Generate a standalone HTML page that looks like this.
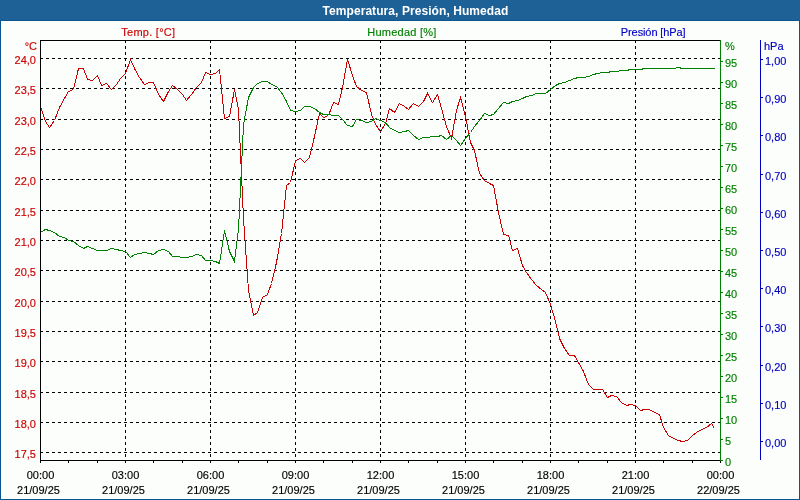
<!DOCTYPE html>
<html><head><meta charset="utf-8"><title>Temperatura, Presión, Humedad</title>
<style>
html,body{margin:0;padding:0;}
body{width:800px;height:500px;overflow:hidden;background:#fcfefc;font-family:"Liberation Sans",sans-serif;font-size:11px;}
#wrap{position:relative;width:800px;height:500px;box-sizing:border-box;border-left:1px solid #0c548f;border-right:1px solid #0c548f;border-bottom:1px solid #0c548f;}
#title{position:absolute;left:-1px;top:0;width:800px;height:20px;background:#1e6197;border-bottom:1px solid #0c548f;color:#fff;font-weight:bold;font-size:12px;}
#title span{position:absolute;left:322.5px;top:3.5px;white-space:nowrap;letter-spacing:0.07px;}
svg{position:absolute;left:-1px;top:0;}
text{font-family:"Liberation Sans",sans-serif;font-size:11px;}
.r{fill:#cc0000;stroke:#cc0000}.g{fill:#008000;stroke:#008000}.b{fill:#0000c0;stroke:#0000c0}.k{fill:#000;stroke:#000}
text{stroke-width:0.15px}
</style></head><body><div id="wrap">
<div id="title"><span id="tt">Temperatura, Presión, Humedad</span></div>
<svg width="800" height="500" viewBox="0 0 800 500">
<g shape-rendering="crispEdges" fill="none" stroke-width="1">
<line x1="40" y1="58.5" x2="720" y2="58.5" stroke="#000" stroke-dasharray="3 3"/>
<line x1="40" y1="88.5" x2="720" y2="88.5" stroke="#000" stroke-dasharray="3 3"/>
<line x1="40" y1="119.5" x2="720" y2="119.5" stroke="#000" stroke-dasharray="3 3"/>
<line x1="40" y1="149.5" x2="720" y2="149.5" stroke="#000" stroke-dasharray="3 3"/>
<line x1="40" y1="179.5" x2="720" y2="179.5" stroke="#000" stroke-dasharray="3 3"/>
<line x1="40" y1="210.5" x2="720" y2="210.5" stroke="#000" stroke-dasharray="3 3"/>
<line x1="40" y1="240.5" x2="720" y2="240.5" stroke="#000" stroke-dasharray="3 3"/>
<line x1="40" y1="270.5" x2="720" y2="270.5" stroke="#000" stroke-dasharray="3 3"/>
<line x1="40" y1="301.5" x2="720" y2="301.5" stroke="#000" stroke-dasharray="3 3"/>
<line x1="40" y1="331.5" x2="720" y2="331.5" stroke="#000" stroke-dasharray="3 3"/>
<line x1="40" y1="361.5" x2="720" y2="361.5" stroke="#000" stroke-dasharray="3 3"/>
<line x1="40" y1="392.5" x2="720" y2="392.5" stroke="#000" stroke-dasharray="3 3"/>
<line x1="40" y1="422.5" x2="720" y2="422.5" stroke="#000" stroke-dasharray="3 3"/>
<line x1="40" y1="452.5" x2="720" y2="452.5" stroke="#000" stroke-dasharray="3 3"/>
<line x1="125.5" y1="40" x2="125.5" y2="460" stroke="#000" stroke-dasharray="3 3"/>
<line x1="210.5" y1="40" x2="210.5" y2="460" stroke="#000" stroke-dasharray="3 3"/>
<line x1="295.5" y1="40" x2="295.5" y2="460" stroke="#000" stroke-dasharray="3 3"/>
<line x1="380.5" y1="40" x2="380.5" y2="460" stroke="#000" stroke-dasharray="3 3"/>
<line x1="465.5" y1="40" x2="465.5" y2="460" stroke="#000" stroke-dasharray="3 3"/>
<line x1="550.5" y1="40" x2="550.5" y2="460" stroke="#000" stroke-dasharray="3 3"/>
<line x1="635.5" y1="40" x2="635.5" y2="460" stroke="#000" stroke-dasharray="3 3"/>
<path d="M40 460.5H721" stroke="#000"/>
<line x1="40.5" y1="461" x2="40.5" y2="463" stroke="#000"/>
<line x1="68.5" y1="461" x2="68.5" y2="463" stroke="#000"/>
<line x1="97.5" y1="461" x2="97.5" y2="463" stroke="#000"/>
<line x1="125.5" y1="461" x2="125.5" y2="463" stroke="#000"/>
<line x1="153.5" y1="461" x2="153.5" y2="463" stroke="#000"/>
<line x1="182.5" y1="461" x2="182.5" y2="463" stroke="#000"/>
<line x1="210.5" y1="461" x2="210.5" y2="463" stroke="#000"/>
<line x1="238.5" y1="461" x2="238.5" y2="463" stroke="#000"/>
<line x1="267.5" y1="461" x2="267.5" y2="463" stroke="#000"/>
<line x1="295.5" y1="461" x2="295.5" y2="463" stroke="#000"/>
<line x1="323.5" y1="461" x2="323.5" y2="463" stroke="#000"/>
<line x1="352.5" y1="461" x2="352.5" y2="463" stroke="#000"/>
<line x1="380.5" y1="461" x2="380.5" y2="463" stroke="#000"/>
<line x1="408.5" y1="461" x2="408.5" y2="463" stroke="#000"/>
<line x1="437.5" y1="461" x2="437.5" y2="463" stroke="#000"/>
<line x1="465.5" y1="461" x2="465.5" y2="463" stroke="#000"/>
<line x1="493.5" y1="461" x2="493.5" y2="463" stroke="#000"/>
<line x1="522.5" y1="461" x2="522.5" y2="463" stroke="#000"/>
<line x1="550.5" y1="461" x2="550.5" y2="463" stroke="#000"/>
<line x1="578.5" y1="461" x2="578.5" y2="463" stroke="#000"/>
<line x1="607.5" y1="461" x2="607.5" y2="463" stroke="#000"/>
<line x1="635.5" y1="461" x2="635.5" y2="463" stroke="#000"/>
<line x1="663.5" y1="461" x2="663.5" y2="463" stroke="#000"/>
<line x1="692.5" y1="461" x2="692.5" y2="463" stroke="#000"/>
<line x1="720.5" y1="461" x2="720.5" y2="463" stroke="#000"/>
<line x1="720.5" y1="40" x2="720.5" y2="461" stroke="#008000"/>
<line x1="721" y1="460.5" x2="723" y2="460.5" stroke="#008000"/>
<line x1="721" y1="439.5" x2="723" y2="439.5" stroke="#008000"/>
<line x1="721" y1="418.5" x2="723" y2="418.5" stroke="#008000"/>
<line x1="721" y1="397.5" x2="723" y2="397.5" stroke="#008000"/>
<line x1="721" y1="376.5" x2="723" y2="376.5" stroke="#008000"/>
<line x1="721" y1="355.5" x2="723" y2="355.5" stroke="#008000"/>
<line x1="721" y1="334.5" x2="723" y2="334.5" stroke="#008000"/>
<line x1="721" y1="313.5" x2="723" y2="313.5" stroke="#008000"/>
<line x1="721" y1="292.5" x2="723" y2="292.5" stroke="#008000"/>
<line x1="721" y1="271.5" x2="723" y2="271.5" stroke="#008000"/>
<line x1="721" y1="250.5" x2="723" y2="250.5" stroke="#008000"/>
<line x1="721" y1="229.5" x2="723" y2="229.5" stroke="#008000"/>
<line x1="721" y1="208.5" x2="723" y2="208.5" stroke="#008000"/>
<line x1="721" y1="187.5" x2="723" y2="187.5" stroke="#008000"/>
<line x1="721" y1="166.5" x2="723" y2="166.5" stroke="#008000"/>
<line x1="721" y1="145.5" x2="723" y2="145.5" stroke="#008000"/>
<line x1="721" y1="124.5" x2="723" y2="124.5" stroke="#008000"/>
<line x1="721" y1="103.5" x2="723" y2="103.5" stroke="#008000"/>
<line x1="721" y1="82.5" x2="723" y2="82.5" stroke="#008000"/>
<line x1="721" y1="61.5" x2="723" y2="61.5" stroke="#008000"/>
<line x1="760.5" y1="40" x2="760.5" y2="460" stroke="#0000c0"/>
<line x1="761" y1="441.5" x2="763" y2="441.5" stroke="#0000c0"/>
<line x1="761" y1="403.5" x2="763" y2="403.5" stroke="#0000c0"/>
<line x1="761" y1="365.5" x2="763" y2="365.5" stroke="#0000c0"/>
<line x1="761" y1="326.5" x2="763" y2="326.5" stroke="#0000c0"/>
<line x1="761" y1="288.5" x2="763" y2="288.5" stroke="#0000c0"/>
<line x1="761" y1="250.5" x2="763" y2="250.5" stroke="#0000c0"/>
<line x1="761" y1="212.5" x2="763" y2="212.5" stroke="#0000c0"/>
<line x1="761" y1="174.5" x2="763" y2="174.5" stroke="#0000c0"/>
<line x1="761" y1="135.5" x2="763" y2="135.5" stroke="#0000c0"/>
<line x1="761" y1="97.5" x2="763" y2="97.5" stroke="#0000c0"/>
<line x1="761" y1="59.5" x2="763" y2="59.5" stroke="#0000c0"/>
<polyline points="40.5,106.5 45.5,121.5 49.5,127.5 54.5,120.5 59.5,107.5 64.5,98.5 68.5,91.5 73.5,89.5 78.5,68.5 83.5,68.5 87.5,79.5 92.5,80.5 97.5,75.5 101.5,85.5 106.5,83.5 111.5,89.5 116.5,84.5 120.5,78.5 125.5,73.5 130.5,59.5 134.5,68.5 139.5,77.5 144.5,84.5 149.5,82.5 153.5,82.5 158.5,94.5 163.5,101.5 168.5,91.5 172.5,85.5 177.5,89.5 182.5,94.5 186.5,100.5 191.5,94.5 196.5,87.5 201.5,82.5 205.5,72.5 210.5,74.5 215.5,73.5 219.5,69.5 224.5,118.5 229.5,116.5 234.5,89.5 238.5,109.5 243.5,218.5 248.5,290.5 253.5,315.5 257.5,312.5 262.5,297.5 267.5,294.5 271.5,283.5 276.5,262.5 281.5,233.5 286.5,185.5 290.5,182.5 295.5,160.5 300.5,158.5 304.5,162.5 309.5,157.5 314.5,136.5 319.5,113.5 323.5,117.5 328.5,115.5 333.5,102.5 338.5,104.5 342.5,87.5 347.5,59.5 352.5,75.5 356.5,86.5 361.5,90.5 366.5,92.5 371.5,114.5 375.5,124.5 380.5,131.5 385.5,123.5 389.5,108.5 394.5,112.5 399.5,103.5 404.5,106.5 408.5,109.5 413.5,103.5 418.5,106.5 423.5,101.5 427.5,93.5 432.5,102.5 437.5,94.5 441.5,108.5 446.5,126.5 451.5,138.5 456.5,110.5 460.5,97.5 465.5,116.5 470.5,142.5 474.5,150.5 479.5,173.5 484.5,180.5 489.5,183.5 493.5,185.5 498.5,212.5 503.5,234.5 508.5,235.5 512.5,250.5 517.5,248.5 522.5,265.5 526.5,272.5 531.5,279.5 536.5,285.5 541.5,289.5 545.5,292.5 550.5,304.5 555.5,321.5 559.5,338.5 564.5,348.5 569.5,355.5 574.5,355.5 578.5,362.5 583.5,371.5 588.5,384.5 593.5,389.5 597.5,389.5 602.5,389.5 607.5,397.5 611.5,395.5 616.5,396.5 621.5,402.5 626.5,405.5 630.5,404.5 635.5,405.5 640.5,410.5 644.5,409.5 649.5,409.5 654.5,412.5 659.5,414.5 663.5,427.5 668.5,435.5 673.5,438.5 678.5,440.5 682.5,441.5 687.5,440.5 692.5,435.5 696.5,432.5 701.5,429.5 706.5,427.5 711.5,423.5 714.5,428.5" stroke="#cc0000"/>
<polyline points="40.5,232.5 45.5,229.5 49.5,230.5 54.5,232.5 59.5,236.5 64.5,237.5 68.5,240.5 73.5,241.5 78.5,245.5 83.5,248.5 87.5,246.5 92.5,248.5 97.5,250.5 101.5,250.5 106.5,250.5 111.5,248.5 116.5,249.5 120.5,250.5 125.5,251.5 130.5,257.5 134.5,254.5 139.5,253.5 144.5,252.5 149.5,253.5 153.5,254.5 158.5,250.5 163.5,249.5 168.5,251.5 172.5,256.5 177.5,256.5 182.5,257.5 186.5,257.5 191.5,256.5 196.5,254.5 201.5,255.5 205.5,260.5 210.5,260.5 215.5,261.5 219.5,263.5 224.5,230.5 229.5,251.5 234.5,261.5 238.5,229.5 243.5,124.5 248.5,97.5 253.5,87.5 257.5,83.5 262.5,81.5 267.5,81.5 271.5,84.5 276.5,86.5 281.5,92.5 286.5,101.5 290.5,110.5 295.5,111.5 300.5,110.5 304.5,106.5 309.5,106.5 314.5,108.5 319.5,112.5 323.5,114.5 328.5,114.5 333.5,115.5 338.5,115.5 342.5,119.5 347.5,125.5 352.5,126.5 356.5,119.5 361.5,120.5 366.5,122.5 371.5,121.5 375.5,118.5 380.5,120.5 385.5,122.5 389.5,127.5 394.5,130.5 399.5,132.5 404.5,131.5 408.5,130.5 413.5,135.5 418.5,139.5 423.5,137.5 427.5,137.5 432.5,136.5 437.5,136.5 441.5,135.5 446.5,139.5 451.5,135.5 456.5,140.5 460.5,145.5 465.5,138.5 470.5,132.5 474.5,126.5 479.5,120.5 484.5,113.5 489.5,115.5 493.5,114.5 498.5,108.5 503.5,102.5 508.5,103.5 512.5,101.5 517.5,100.5 522.5,98.5 526.5,96.5 531.5,95.5 536.5,93.5 541.5,93.5 545.5,93.5 550.5,89.5 555.5,85.5 559.5,83.5 564.5,82.5 569.5,80.5 574.5,78.5 578.5,77.5 583.5,77.5 588.5,76.5 593.5,74.5 597.5,73.5 602.5,72.5 607.5,72.5 611.5,71.5 616.5,71.5 621.5,70.5 626.5,70.5 630.5,69.5 635.5,69.5 640.5,69.5 644.5,68.5 649.5,68.5 654.5,68.5 659.5,68.5 663.5,68.5 668.5,68.5 673.5,68.5 678.5,67.5 682.5,68.5 687.5,68.5 692.5,68.5 696.5,68.5 701.5,68.5 706.5,68.5 711.5,68.5 714.5,68.5" stroke="#008000"/>
<path d="M40.5 461V40.5H720" stroke="#000"/>
</g>
<text class="r" x="148.3" y="36" text-anchor="middle" letter-spacing="0.25">Temp. [°C]</text>
<text class="g" x="401.9" y="36" text-anchor="middle" letter-spacing="0.24">Humedad [%]</text>
<text class="b" x="653.2" y="36" text-anchor="middle" letter-spacing="-0.1">Presión [hPa]</text>
<text class="r" x="37" y="50" text-anchor="end">°C</text>
<text class="r" x="36" y="64" text-anchor="end">24,0</text>
<text class="r" x="36" y="94" text-anchor="end">23,5</text>
<text class="r" x="36" y="125" text-anchor="end">23,0</text>
<text class="r" x="36" y="155" text-anchor="end">22,5</text>
<text class="r" x="36" y="185" text-anchor="end">22,0</text>
<text class="r" x="36" y="216" text-anchor="end">21,5</text>
<text class="r" x="36" y="246" text-anchor="end">21,0</text>
<text class="r" x="36" y="276" text-anchor="end">20,5</text>
<text class="r" x="36" y="307" text-anchor="end">20,0</text>
<text class="r" x="36" y="337" text-anchor="end">19,5</text>
<text class="r" x="36" y="367" text-anchor="end">19,0</text>
<text class="r" x="36" y="398" text-anchor="end">18,5</text>
<text class="r" x="36" y="428" text-anchor="end">18,0</text>
<text class="r" x="36" y="458" text-anchor="end">17,5</text>
<text class="g" x="725" y="50">%</text>
<text class="g" x="725" y="466">0</text>
<text class="g" x="725" y="445">5</text>
<text class="g" x="725" y="424">10</text>
<text class="g" x="725" y="403">15</text>
<text class="g" x="725" y="382">20</text>
<text class="g" x="725" y="361">25</text>
<text class="g" x="725" y="340">30</text>
<text class="g" x="725" y="319">35</text>
<text class="g" x="725" y="298">40</text>
<text class="g" x="725" y="277">45</text>
<text class="g" x="725" y="256">50</text>
<text class="g" x="725" y="235">55</text>
<text class="g" x="725" y="214">60</text>
<text class="g" x="725" y="193">65</text>
<text class="g" x="725" y="172">70</text>
<text class="g" x="725" y="151">75</text>
<text class="g" x="725" y="130">80</text>
<text class="g" x="725" y="109">85</text>
<text class="g" x="725" y="88">90</text>
<text class="g" x="725" y="67">95</text>
<text class="b" x="764" y="50">hPa</text>
<text class="b" x="765" y="447">0,00</text>
<text class="b" x="765" y="409">0,10</text>
<text class="b" x="765" y="371">0,20</text>
<text class="b" x="765" y="332">0,30</text>
<text class="b" x="765" y="294">0,40</text>
<text class="b" x="765" y="256">0,50</text>
<text class="b" x="765" y="218">0,60</text>
<text class="b" x="765" y="180">0,70</text>
<text class="b" x="765" y="141">0,80</text>
<text class="b" x="765" y="103">0,90</text>
<text class="b" x="765" y="65">1,00</text>
<text class="k" x="40.5" y="479" text-anchor="middle">00:00</text>
<text class="k" x="38.5" y="494" text-anchor="middle">21/09/25</text>
<text class="k" x="125.5" y="479" text-anchor="middle">03:00</text>
<text class="k" x="123.5" y="494" text-anchor="middle">21/09/25</text>
<text class="k" x="210.5" y="479" text-anchor="middle">06:00</text>
<text class="k" x="208.5" y="494" text-anchor="middle">21/09/25</text>
<text class="k" x="295.5" y="479" text-anchor="middle">09:00</text>
<text class="k" x="293.5" y="494" text-anchor="middle">21/09/25</text>
<text class="k" x="380.5" y="479" text-anchor="middle">12:00</text>
<text class="k" x="378.5" y="494" text-anchor="middle">21/09/25</text>
<text class="k" x="465.5" y="479" text-anchor="middle">15:00</text>
<text class="k" x="463.5" y="494" text-anchor="middle">21/09/25</text>
<text class="k" x="550.5" y="479" text-anchor="middle">18:00</text>
<text class="k" x="548.5" y="494" text-anchor="middle">21/09/25</text>
<text class="k" x="635.5" y="479" text-anchor="middle">21:00</text>
<text class="k" x="633.5" y="494" text-anchor="middle">21/09/25</text>
<text class="k" x="720.5" y="479" text-anchor="middle">00:00</text>
<text class="k" x="718.5" y="494" text-anchor="middle">22/09/25</text>
</svg></div></body></html>
